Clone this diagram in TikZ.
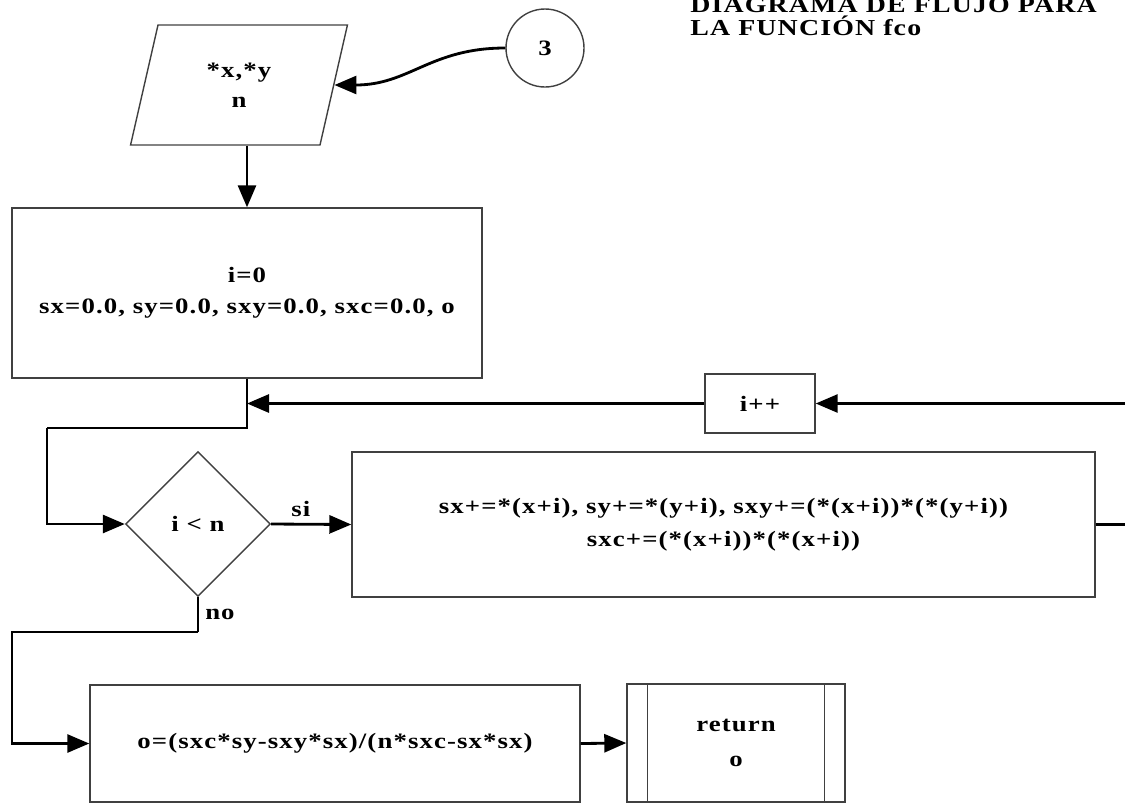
\documentclass[tikz,border=0pt]{standalone}
\usepackage{fontspec}
\setmainfont[FakeStretch=1.22, LetterSpace=5]{Liberation Serif}
\usetikzlibrary{shapes.geometric,arrows.meta}

\tikzset{
	box/.style={draw=black!75, line width=0.8pt, rectangle, align=center},
	link/.style={line width=1.6pt},
	arr/.style={link, -{Triangle[length=0.44cm,width=0.36cm]}}
}

\begin{document}
\begin{tikzpicture}[font=\fontsize{12.5}{15}\selectfont\bfseries]
		\useasboundingbox (0,0) rectangle (22.5,-16.1);

		% title, cut at the top
		\node [anchor=south west, inner sep=0, align=left, font=\fontsize{13}{13}\selectfont\bfseries] (title) at (13.8,-0.72) {DIAGRAMA DE FLUJO PARA\\LA FUNCIÓN fco};

		% input and connector
		\node [trapezium, trapezium left angle=77, trapezium right angle=103, trapezium stretches=true, draw=black!75, line width=0.8pt, minimum width=4.36cm, minimum height=2.4cm, align=center] (par) at (4.78,-1.7) {*x,*y\\[2pt]n};
		\node [circle, draw=black!75, line width=0.8pt, minimum size=1.56cm] (c3) at (10.9,-0.96) {3};

		\node [box, minimum width=9.4cm, minimum height=3.4cm] (init) at (4.94,-5.86) {i=0\\[2.5pt]sx=0.0, sy=0.0, sxy=0.0, sxc=0.0, o};

		\node [box, minimum width=2.2cm, minimum height=1.18cm] (inc) at (15.2,-8.07) {i++};

		\node [diamond, draw=black!75, line width=0.8pt, aspect=1, minimum size=2.9cm, inner sep=0] (cond) at (3.96,-10.48) {i < n};

		\node [box, minimum width=14.86cm, minimum height=2.9cm] (body) at (14.47,-10.49) {sx+=*(x+i), sy+=*(y+i), sxy+=(*(x+i))*(*(y+i))\\[3.5pt]sxc+=(*(x+i))*(*(x+i))};

		\node [box, minimum width=9.8cm, minimum height=2.34cm] (calc) at (6.7,-14.87) {o=(sxc*sy-sxy*sx)/(n*sxc-sx*sx)};

		\node [box, minimum width=4.36cm, minimum height=2.36cm] (ret) at (14.72,-14.86) {return\\[5pt]o};
		\draw [draw=black!75, line width=0.8pt] ([xshift=0.42cm]ret.north west) -- ([xshift=0.42cm]ret.south west);
		\draw [draw=black!75, line width=0.8pt] ([xshift=-0.42cm]ret.north east) -- ([xshift=-0.42cm]ret.south east);

		\coordinate (J) at (init.south |- inc.west);
		\coordinate (bend) at (0.94,-8.56);
		\coordinate (bend2) at (0.24,-12.64);

		\draw [arr] (c3.west) to[out=180, in=0, looseness=1.1] (par.east);
		\draw [arr] (par.south -| init.north) -- (init.north);
		\draw [link] (init.south) |- (bend);
		\draw [arr] (bend) |- (cond.west);
		\draw [arr] (inc.west) -- (J);
		\draw [arr] (cond.east) -- node[above, pos=0.37] {si} (body.west);
		\draw [arr] (body.east) -- ++(1.2,0) |- (inc.east);
		\draw [link] (cond.south) -- node[right, midway] {no} (cond.south |- bend2);
		\draw [arr] (cond.south |- bend2) -- (bend2) |- (calc.west);
		\draw [arr] (calc.east) -- (ret.west);
	\end{tikzpicture}
\end{document}
